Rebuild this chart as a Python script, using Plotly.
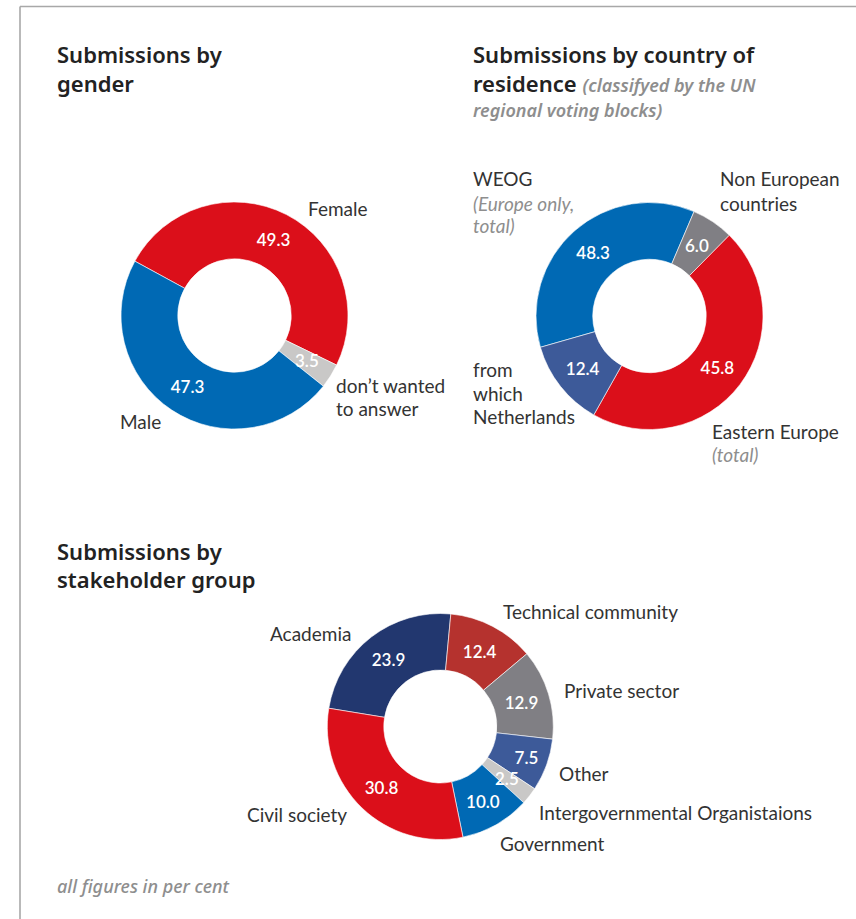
import math
import plotly.graph_objects as go

W, H = 856, 919

# ---------------- data ----------------
gender_labels = ["Female", "don’t wanted to answer", "Male"]
gender_values = [49.3, 3.5, 47.3]

country_labels = ["WEOG (Europe only, total)", "Non European countries",
                  "Eastern Europe (total)", "from which Netherlands"]
country_values = [48.3, 6.0, 45.8, 12.4]   # WEOG total includes the Netherlands share

stake_labels = ["Academia", "Technical community", "Private sector", "Other",
                "Intergovernmental Organistaions", "Government", "Civil society"]
stake_values = [23.9, 12.4, 12.9, 7.5, 2.5, 10.0, 30.8]

# ---------------- styles ----------------
RED = "#DB0F1A"
BLUE = "#0069B4"
LGRAY = "#C9C8C7"
DGRAY = "#807F84"
NAVY_M = "#3D5A99"
NAVY_D = "#22376F"
BRICK = "#B5322E"
LABEL = "#333333"
TITLE = "#222222"
NOTE = "#8E8E8E"
FONT = "Lato"
TFONT = "Noto Sans"
HOLE = 0.5
NUMFONT = dict(family=FONT, size=17, color="white", weight=600)


def px(x):
    return x / W


def py(y):
    return 1 - y / H


fig = go.Figure()
annotations = []


def note(x, y, s, size=19, color=LABEL, family=FONT, weight="normal", style="normal"):
    annotations.append(dict(x=px(x - 2), y=py(y), xref="paper", yref="paper", text=s,
                            showarrow=False, xanchor="left", yanchor="middle", align="left",
                            font=dict(family=family, size=size, color=color,
                                      weight=weight, style=style)))


def donut(cx, cy, r, values, texts, colors, rotation, min_inside=7):
    total = sum(values)
    pos = ["inside" if v >= min_inside else "none" for v in values]
    fig.add_trace(go.Pie(
        values=values, text=texts, textinfo="text", sort=False, direction="clockwise",
        rotation=rotation, hole=HOLE, textposition=pos, insidetextorientation="horizontal",
        insidetextfont=NUMFONT,
        marker=dict(colors=colors, line=dict(color="white", width=0.6)),
        domain=dict(x=[px(cx - r), px(cx + r)], y=[py(cy + r), py(cy - r)]),
        showlegend=False, hoverinfo="skip"))
    # labels for slices too small for the library's inside text: mid-ring, mid-angle
    rm = r * (1 + HOLE) / 2
    cum = 0
    for v, t in zip(values, texts):
        mid = math.radians(rotation + 360 * (cum + v / 2) / total)
        cum += v
        if v < min_inside:
            annotations.append(dict(
                x=px(cx + rm * math.sin(mid)), y=py(cy - rm * math.cos(mid)),
                xref="paper", yref="paper", text=t, showarrow=False,
                xanchor="center", yanchor="middle", font=NUMFONT))


# gender
donut(234.5, 315.5, 113.5, gender_values, [f"{v:.1f}" for v in gender_values],
      [RED, LGRAY, BLUE], 298.6)

# country (WEOG slice drawn without the Netherlands part, labelled with its total)
country_slices = [country_values[0] - country_values[3]] + country_values[1:]
donut(649.5, 316, 113.5, country_slices, [f"{v:.1f}" for v in country_values],
      [BLUE, DGRAY, RED, NAVY_M], 254)

# stakeholder
donut(440.3, 726.5, 113, stake_values, [f"{v:.1f}" for v in stake_values],
      [NAVY_D, BRICK, DGRAY, NAVY_M, LGRAY, BLUE, RED], 279.3)

# ---------------- titles ----------------
tkw = dict(size=22, color=TITLE, family=TFONT, weight=600)
note(57, 54, "Submissions by", **tkw)
note(57, 83, "gender", **tkw)
note(473, 54, "Submissions by country of", **tkw)
note(473, 83, "residence <span style='color:%s;font-size:18px;font-style:italic'>(classifyed by the UN</span>" % NOTE, **tkw)
note(473, 110, "regional voting blocks)", size=18, color=NOTE, family=TFONT, weight=600, style="italic")
note(57, 551, "Submissions by", **tkw)
note(57, 579, "stakeholder group", **tkw)
note(57, 886, "all figures in per cent", size=18, color=NOTE, family=TFONT, weight=500, style="italic")

# ---------------- category labels ----------------
note(308, 208, gender_labels[0])
note(336, 385, "don’t wanted")
note(336, 409, "to answer")
note(120, 421, gender_labels[2])

note(473, 179, "WEOG")
note(473, 203, "(Europe only,", color=NOTE, style="italic")
note(473, 226, "total)", color=NOTE, style="italic")
note(720, 179, "Non European")
note(720, 203, "countries")
note(712, 431, "Eastern Europe")
note(712, 454, "(total)", color=NOTE, style="italic")
note(473, 369, "from")
note(473, 393, "which")
note(473, 417, "Netherlands")

stake_pos = [(270, 633), (503, 611), (564, 690), (559, 773), (539, 812), (500, 843), (247, 814)]
for lab, (x, y) in zip(stake_labels, stake_pos):
    note(x, y, lab)

# ---------------- frame ----------------
shapes = [
    dict(type="line", xref="paper", yref="paper", x0=px(20), x1=px(W), y0=py(6.5), y1=py(6.5),
         line=dict(color="#A8A8A8", width=1.6)),
    dict(type="line", xref="paper", yref="paper", x0=px(20), x1=px(20), y0=py(6.5), y1=py(H),
         line=dict(color="#A8A8A8", width=1.6)),
]

fig.update_layout(width=W, height=H, autosize=False, margin=dict(l=0, r=0, t=0, b=0),
                  paper_bgcolor="white", plot_bgcolor="white",
                  annotations=annotations, shapes=shapes,
                  font=dict(family=FONT))

fig.write_html("out.html")
